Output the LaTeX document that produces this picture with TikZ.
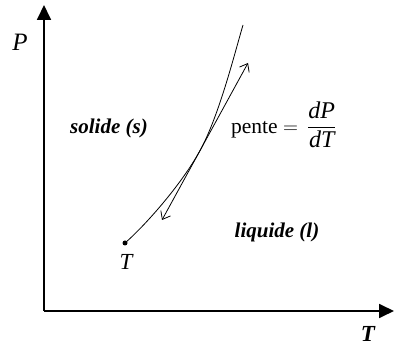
\documentclass[tikz,border=0pt]{standalone}
\usepackage{amsmath}
\usepackage{fontspec}
\setmainfont{Liberation Serif}
\usetikzlibrary{arrows.meta}
\tikzset{
  axis/.style={line width=1.8pt, -{Triangle[length=15pt,width=14pt]}},
  curve/.style={line width=0.8pt},
  tangent/.style={line width=0.8pt, {Straight Barb[length=7pt,width=11pt]}-{Straight Barb[length=7pt,width=11pt]}},
  phase/.style={font=\fontsize{21}{25}\selectfont\bfseries\itshape, inner sep=0pt},
  lab/.style={font=\fontsize{25}{28}\selectfont\itshape, inner sep=0pt}
}
\newcommand{\bigit}[1]{\text{\fontsize{24}{28}\selectfont\itshape #1}}
\begin{document}
\begin{tikzpicture}[x=1pt,y=-1pt]
\useasboundingbox (0,0) rectangle (394,347);
\coordinate (O) at (44,311);
\coordinate (ytop) at (44,5);
\coordinate (xend) at (394,311);
\draw[axis] (O) -- (ytop);
\draw[axis] (O) -- (xend);
\node[lab] (P) at (20,42) {P};
\node[phase, font=\fontsize{23}{26}\selectfont\bfseries\itshape] (Tx) at (368,334) {T};
\node[circle, fill, inner sep=0pt, minimum size=5pt] (tp) at (125,243) {};
\node[lab, font=\fontsize{23}{26}\selectfont\itshape] (Tt) at (126,262) {T};
\coordinate (touch) at (200,150.6);
\coordinate (top) at (243,25);
\draw[curve] (tp.center) .. controls (143.9,226.6) and (180.8,185.7) .. (touch)
  .. controls (219.2,115.5) and (234.5,53.8) .. (top);
\coordinate (ta) at (162,220);
\coordinate (tb) at (248,63);
\draw[tangent] (ta) -- (tb);
\node[phase] (sol) at (109,128) {solide (s)};
\node[phase] (liq) at (277,232) {liquide (l)};
\node[inner sep=0pt, font=\fontsize{21.5}{25}\selectfont, anchor=west] (pente) at (231,125) {pente $=\,\dfrac{\bigit{dP}}{\bigit{dT}}$};
\end{tikzpicture}
\end{document}
